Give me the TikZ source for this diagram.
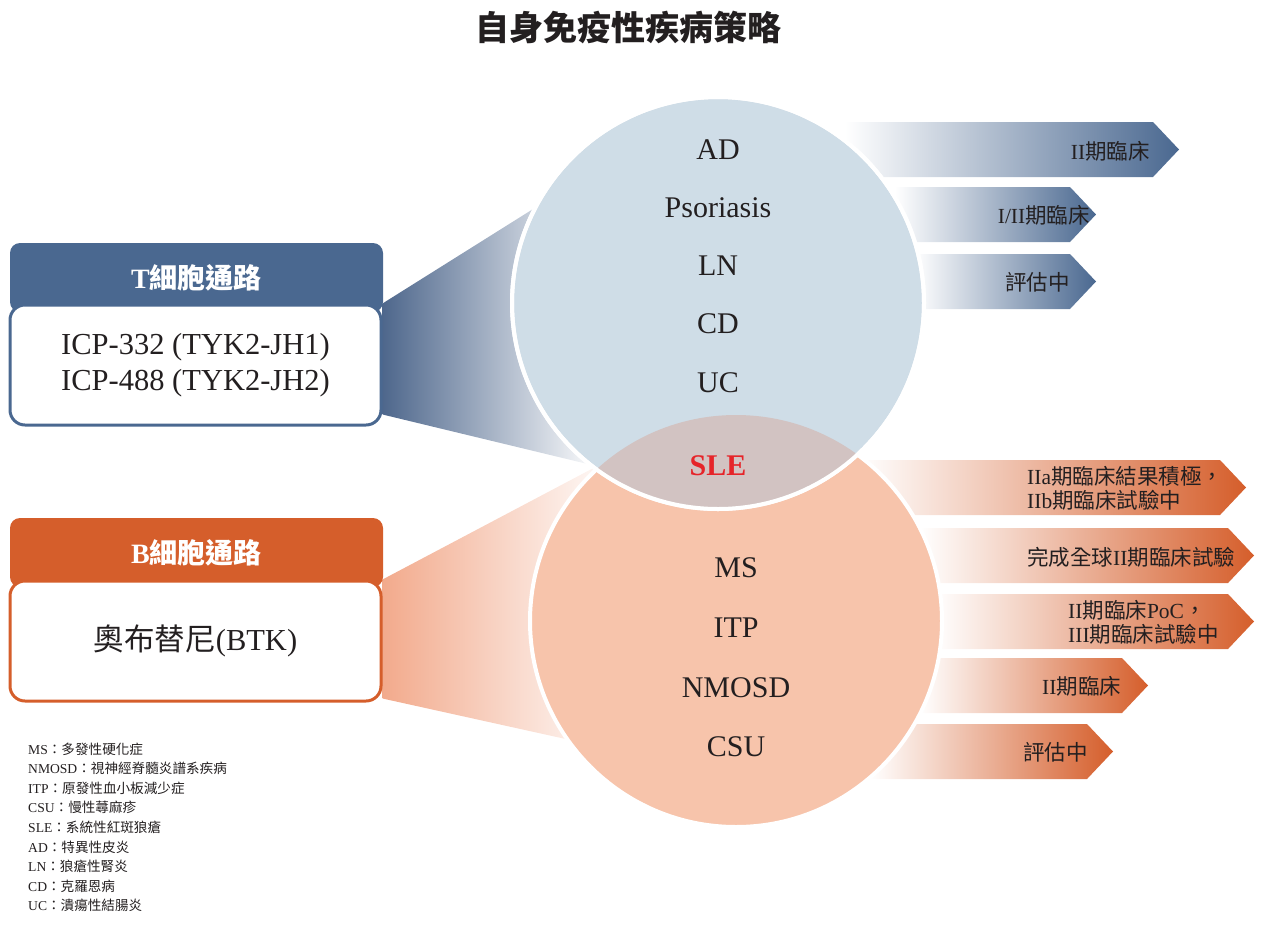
\documentclass[tikz,border=0pt]{standalone}
\usepackage{fontspec}
\setmainfont{Liberation Serif}
\newfontfamily\cjk{Noto Sans CJK TC}
\newcommand\zh[1]{{\cjk #1}}
\usetikzlibrary{backgrounds}
\definecolor{tblue}{RGB}{74,104,144}
\definecolor{tfun}{RGB}{78,103,140}
\definecolor{borange}{RGB}{213,94,43}
\definecolor{bfun}{RGB}{242,170,140}
\definecolor{tfill}{RGB}{207,221,231}
\definecolor{bfill}{RGB}{247,196,171}
\definecolor{lens}{RGB}{210,195,194}
\definecolor{slered}{RGB}{230,36,41}
\definecolor{ink}{RGB}{35,31,32}
\begin{document}
\begin{tikzpicture}[x=1pt,y=-1pt]
          \tikzstyle{every node}=[inner sep=0pt,text=ink];
          \tikzstyle{head}=[rounded corners=10pt,minimum width=373pt,minimum height=69pt,text=white,font=\fontsize{28}{32}\selectfont\bfseries];
          \tikzstyle{drugbox}=[draw,line width=3pt,fill=white,rounded corners=15pt,minimum width=371pt,minimum height=120pt,align=center,font=\fontsize{30.5}{36}\selectfont];
          \tikzstyle{ring}=[circle,draw=white,line width=4pt,minimum size=412pt];
          \tikzstyle{dis}=[anchor=base,font=\fontsize{30}{34}\selectfont];
          \tikzstyle{stage}=[font=\fontsize{21.5}{24}\selectfont,align=left];
          \tikzstyle{legend}=[anchor=base west,font=\fontsize{13.6}{16}\selectfont];
          \useasboundingbox (0,0) rectangle (1268,924);
          \node[font=\cjk\bfseries\fontsize{34}{40}\selectfont] (title) at (628,28) {自身免疫性疾病策略};
          %circles
          \node[ring,fill=bfill] (bcirc) at (736,621) {};
          \node[ring,fill=tfill] (tcirc) at (718,303) {};
          \begin{scope}
            \clip (tcirc.center) circle (206pt);
            \fill[lens] (bcirc.center) circle (206pt);
          \end{scope}
          \draw[white,line width=4pt] (tcirc.center) circle (206pt);
          \foreach \dis/\y in {AD/159,Psoriasis/217,LN/275,CD/333,UC/392}
            \node[dis] (\dis) at (718,\y) {\dis};
          \node[dis,text=slered,font=\fontsize{30}{34}\selectfont\bfseries] (SLE) at (718,475) {SLE};
          \foreach \dis/\y in {MS/577,ITP/637,NMOSD/697,CSU/756}
            \node[dis] (\dis) at (736,\y) {\dis};
          %pathways
          \node[head,fill=tblue] (thead) at (196.5,277.5) {T\zh{細胞通路}};
          \node[drugbox,draw=tblue] (tbox) at (195.5,365) {ICP-332 (TYK2-JH1)\\ICP-488 (TYK2-JH2)};
          \node[head,fill=borange] (bhead) at (196.5,552.5) {B\zh{細胞通路}};
          \node[drugbox,draw=borange] (bbox) at (195.5,641) {\zh{奧布替尼}(BTK)};
          %stages
          \node[stage,anchor=base east] (tII) at (1150,159) {II\zh{期臨床}};
          \node[stage,anchor=base east] (tI) at (1090,223) {I/II\zh{期臨床}};
          \node[stage,anchor=base east] (tev) at (1070,290) {\zh{評估中}};
          \node[stage,anchor=west] (bIIa) at (1027,488) {IIa\zh{期臨床結果積極，}\\IIb\zh{期臨床試驗中}};
          \node[stage,anchor=base west] (bgl) at (1027,565) {\zh{完成全球}II\zh{期臨床試驗}};
          \node[stage,anchor=west] (bpoc) at (1068,622.5) {II\zh{期臨床}PoC\zh{，}\\III\zh{期臨床試驗中}};
          \node[stage,anchor=base west] (bII) at (1042,694) {II\zh{期臨床}};
          \node[stage,anchor=base west] (bev) at (1023,760) {\zh{評估中}};
          %legend
          \foreach \ab/\full [count=\n from 0] in {MS/多發性硬化症,NMOSD/視神經脊髓炎譜系疾病,ITP/原發性血小板減少症,CSU/慢性蕁麻疹,SLE/系統性紅斑狼瘡,AD/特異性皮炎,LN/狼瘡性腎炎,CD/克羅恩病,UC/潰瘍性結腸炎}
            \node[legend] (leg\n) at (28,754+19.6*\n) {\ab\zh{：\full}};
          \begin{scope}[on background layer]
            \coordinate (tf1) at (600,167);
            \coordinate (tf2) at (600,467);
            \coordinate (bf1) at (620,454);
            \coordinate (bf2) at (620,751);
            \shade[left color=tfun,right color=white] (tbox.north east) -- (tf1) -- (tf2) -- ([yshift=12pt]tbox.south east) -- cycle;
            \shade[left color=bfun,right color=white] (bbox.north east) -- (bf1) -- (bf2) -- ([yshift=4pt]bbox.south east) -- cycle;
            \foreach \xa/\ya/\xb/\col in {845/122/1153/tblue,895/187/1070/tblue,915/254/1070/tblue,860/460/1220/borange,920/528/1228/borange,935/594/1228/borange,920/658/1122/borange,870/724/1087/borange}
              \shade[left color=white,right color=\col] (\xa,\ya) -- (\xb,\ya) -- (\xb+26,\ya+27.5) -- (\xb,\ya+55) -- (\xa,\ya+55) -- cycle;
          \end{scope}
\end{tikzpicture}
\end{document}
